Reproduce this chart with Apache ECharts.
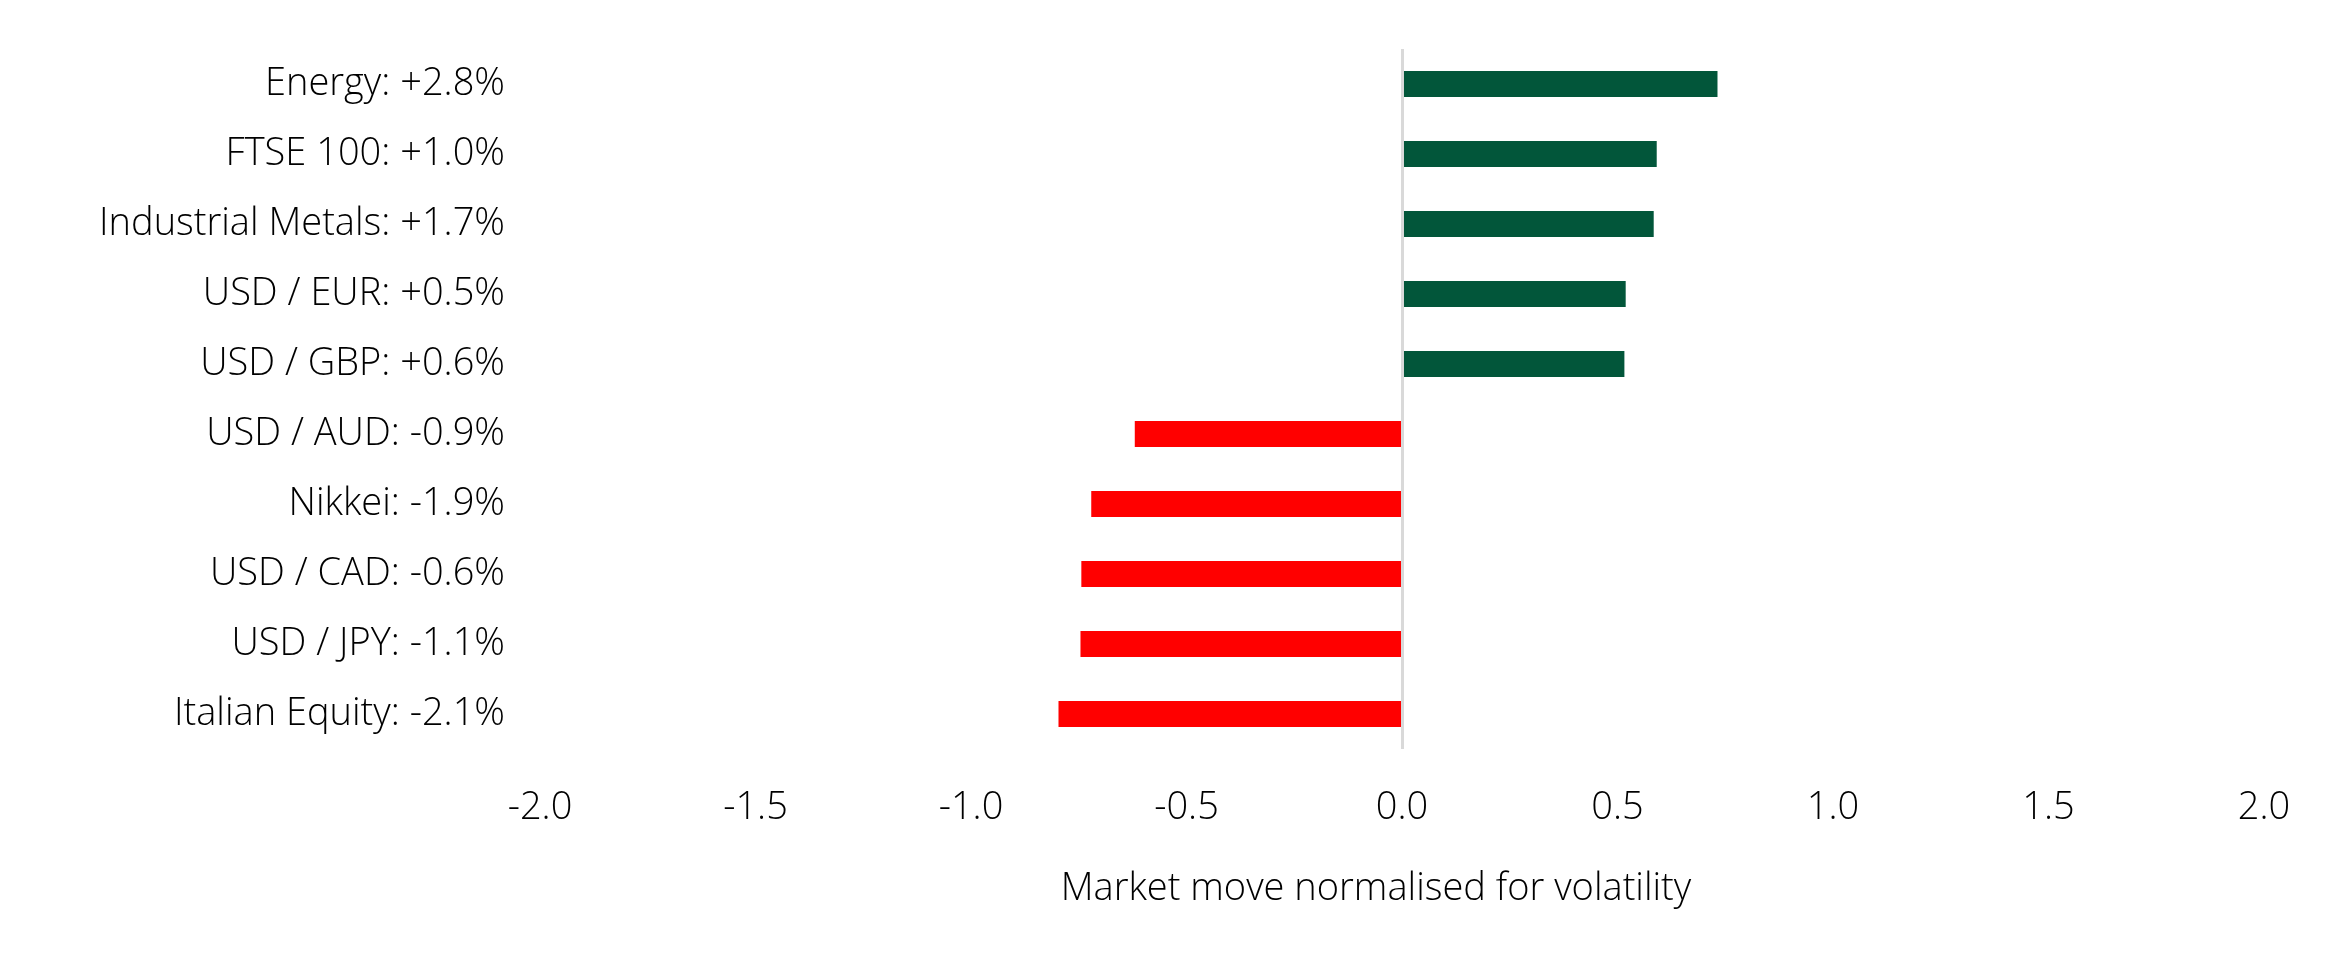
<!DOCTYPE html>
<html>
<head>
<meta charset="utf-8">
<script src="https://cdn.jsdelivr.net/npm/echarts@6/dist/echarts.min.js"></script>
<style>html,body{margin:0;padding:0;background:#fff}#c{width:2339px;height:953px}</style>
</head>
<body>
<div id="c"></div>
<script>
var categories = ["Energy: +2.8%", "FTSE 100: +1.0%", "Industrial Metals: +1.7%", "USD / EUR: +0.5%", "USD / GBP: +0.6%", "USD / AUD: -0.9%", "Nikkei: -1.9%", "USD / CAD: -0.6%", "USD / JPY: -1.1%", "Italian Equity: -2.1%"];
var values = [0.732, 0.591, 0.584, 0.519, 0.516, -0.620, -0.721, -0.744, -0.746, -0.797];
var xTicks = [-2.0, -1.5, -1.0, -0.5, 0.0, 0.5, 1.0, 1.5, 2.0];
var xTitle = "Market move normalised for volatility";

var FONT = "Open Sans";
var FS = 38;
var chart = echarts.init(document.getElementById('c'), null, {renderer: 'canvas'});
chart.setOption({
  animation: false,
  backgroundColor: '#ffffff',
  grid: {left: 540, right: 75, top: 49, bottom: 204, containLabel: false},
  xAxis: {
    type: 'value', min: xTicks[0], max: xTicks[xTicks.length - 1], interval: 0.5,
    axisLine: {show: false}, axisTick: {show: false}, splitLine: {show: false},
    axisLabel: {margin: 40, color: '#000', fontFamily: FONT, fontWeight: 300, fontSize: FS,
      formatter: function (v) { return v.toFixed(1); }}
  },
  yAxis: {
    type: 'category', data: categories, inverse: true,
    axisLine: {show: false}, axisTick: {show: false},
    axisLabel: {margin: 35, color: '#000', fontFamily: FONT, fontWeight: 300, fontSize: FS}
  },
  graphic: [{
    type: 'text', x: 1376, y: 889,
    style: {text: xTitle, fill: '#000', fontFamily: FONT, fontWeight: 300, fontSize: FS,
      align: 'center', verticalAlign: 'middle'}
  }],
  series: [{
    type: 'bar', barWidth: 26,
    data: values.map(function (v) {
      return {value: v, itemStyle: {color: v >= 0 ? '#02563A' : '#FF0000'}};
    }),
    markLine: {
      silent: true, symbol: 'none', label: {show: false},
      lineStyle: {color: '#D9D9D9', width: 3, type: 'solid'},
      data: [{xAxis: 0}]
    }
  }]
});
</script>
</body>
</html>
